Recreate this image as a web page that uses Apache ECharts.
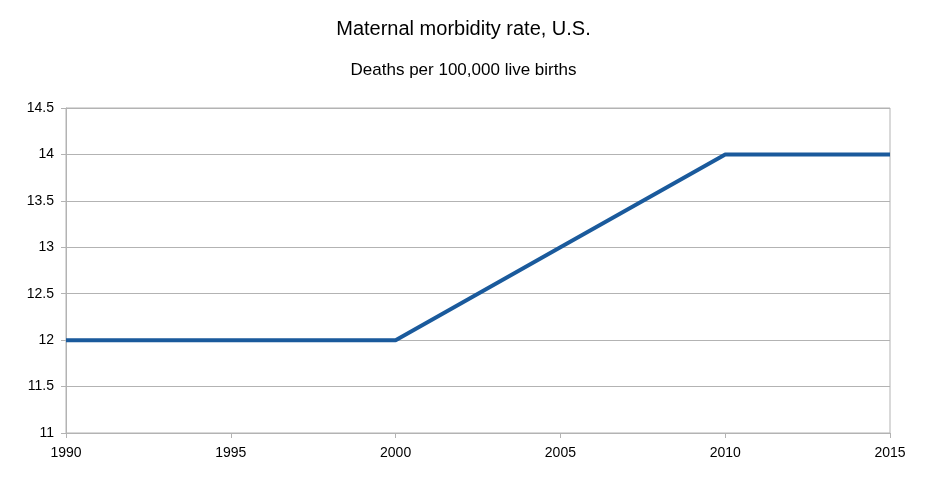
<!DOCTYPE html>
<html>
<head>
<meta charset="utf-8">
<script src="https://cdn.jsdelivr.net/npm/echarts@6/dist/echarts.min.js"></script>
<style>
  html, body { margin: 0; padding: 0; background: #fff; }
  #chart { width: 927px; height: 477px; }
</style>
</head>
<body>
<div id="chart"></div>
<script>
var years = [1990, 1995, 2000, 2005, 2010, 2015];
var rates = [12, 12, 12, 13, 14, 14];

var chart = echarts.init(document.getElementById('chart'));
var font = '"Liberation Sans", Arial, sans-serif';

var option = {
    backgroundColor: '#fff',
    animation: false,
    title: [{
        text: 'Maternal morbidity rate, U.S.',
        left: 'center',
        top: 14,
        textStyle: { fontFamily: font, fontSize: 20, fontWeight: 'normal', color: '#000' }
    }, {
        text: 'Deaths per 100,000 live births',
        left: 'center',
        top: 57,
        textStyle: { fontFamily: font, fontSize: 17, fontWeight: 'normal', color: '#000' }
    }],
    grid: {
        left: 66,
        right: 37,
        top: 108,
        bottom: 44,
        show: true,
        borderColor: '#b3b3b3',
        borderWidth: 1
    },
    xAxis: {
        type: 'value',
        min: 1990,
        max: 2015,
        interval: 5,
        axisLine: { lineStyle: { color: '#b3b3b3' } },
        axisTick: { show: true, length: 5, lineStyle: { color: '#b3b3b3' } },
        splitLine: { show: false },
        axisLabel: {
            fontFamily: font, fontSize: 14, color: '#000', margin: 13,
            formatter: function (v) { return String(v); }
        }
    },
    yAxis: {
        type: 'value',
        min: 11,
        max: 14.5,
        interval: 0.5,
        axisLine: { show: true, lineStyle: { color: '#b3b3b3' } },
        axisTick: { show: true, length: 5, lineStyle: { color: '#b3b3b3' } },
        splitLine: { show: true, lineStyle: { color: '#b3b3b3' } },
        axisLabel: { fontFamily: font, fontSize: 14, color: '#000', margin: 12 }
    },
    series: [{
        type: 'line',
        data: years.map(function (y, i) { return [y, rates[i]]; }),
        showSymbol: false,
        lineStyle: { color: '#1a5a9c', width: 4 },
        itemStyle: { color: '#1a5a9c' }
    }]
};

chart.setOption(option);
</script>
</body>
</html>
